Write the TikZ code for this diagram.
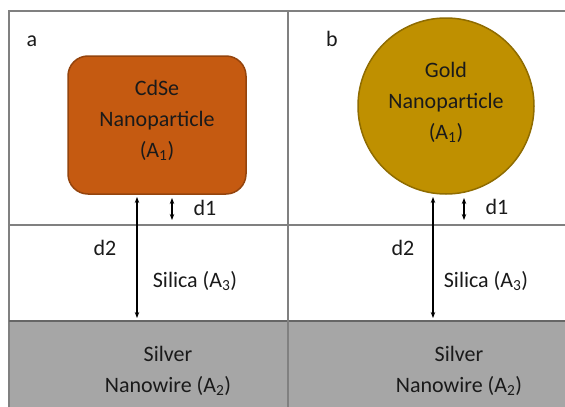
\documentclass[tikz,border=0pt]{standalone}
\usepackage{fontspec}
\setmainfont{Carlito}
\usetikzlibrary{arrows.meta}
\definecolor{cdsecol}{HTML}{C55A11}
\definecolor{goldcol}{HTML}{BF9000}
\definecolor{silvercol}{HTML}{A6A6A6}
\definecolor{framecol}{HTML}{808080}
\definecolor{txtcol}{HTML}{1A1A1A}
\begin{document}
\begin{tikzpicture}[x=1pt,y=-1pt,
  lbl/.style={font=\fontsize{22}{31}\selectfont, text=txtcol, align=center, inner sep=0pt},
  dimarrow/.style={line width=1.4pt, {Stealth[length=6pt,width=4.5pt]}-{Stealth[length=6pt,width=4.5pt]}},
  framel/.style={draw=framecol, line width=1.3pt}]
\useasboundingbox (0,0) rectangle (565,407);
\fill[white] (0,0) rectangle (565,407);
\fill[silvercol] (9,321) rectangle (565,407);
\draw[framel] (9,407) -- (9,11) -- (565,11);
\draw[framel] (9,225) -- (565,225);
\draw[framel, draw=framecol!80!black] (9,321) -- (565,321);
\draw[framel] (288,11) -- (288,407);

% particles
\node[draw=cdsecol!75!black, line width=1.5pt, fill=cdsecol, rounded corners=20pt,
      minimum width=178pt, minimum height=138pt, inner sep=0pt] (cdse) at (157,125) {};
\node[lbl] (cdsetext) at (157,120) {CdSe\\Nanoparticle\\(A\textsubscript{1})};
\node[draw=goldcol!75!black, line width=1.5pt, fill=goldcol, circle,
      minimum size=176pt, inner sep=0pt] (gold) at (446,106) {};
\node[lbl] (goldtext) at (446,102) {Gold\\Nanoparticle\\(A\textsubscript{1})};

% panel letters
\node[lbl] (pa) at (32,41) {a};
\node[lbl] (pb) at (332,39) {b};

% left arrows
\coordinate (la1) at (137,197);
\coordinate (la2) at (137,318);
\draw[dimarrow] (la1) -- (la2);
\coordinate (ld1) at (172,198);
\coordinate (ld2) at (172,220);
\draw[dimarrow] (ld1) -- (ld2);
\node[lbl] (ld1t) at (205,208) {d1};
\node[lbl] (ld2t) at (105,248) {d2};
\node[lbl] (lsil) at (195,281) {Silica (A\textsubscript{3})};

% right arrows
\coordinate (ra1) at (433,197);
\coordinate (ra2) at (433,318);
\draw[dimarrow] (ra1) -- (ra2);
\coordinate (rd1) at (464,198);
\coordinate (rd2) at (464,220);
\draw[dimarrow] (rd1) -- (rd2);
\node[lbl] (rd1t) at (497,207) {d1};
\node[lbl] (rd2t) at (403,248) {d2};
\node[lbl] (rsil) at (486,281) {Silica (A\textsubscript{3})};

% silver
\node[lbl] (lag) at (168,371) {Silver\\Nanowire (A\textsubscript{2})};
\node[lbl] (rag) at (459,371) {Silver\\Nanowire (A\textsubscript{2})};
\end{tikzpicture}
\end{document}
